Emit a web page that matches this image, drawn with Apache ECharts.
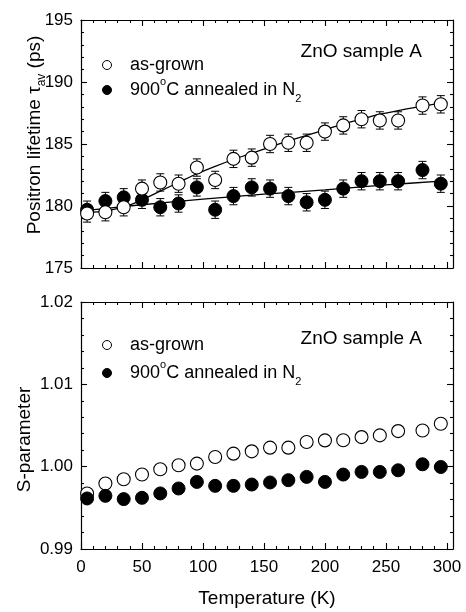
<!DOCTYPE html>
<html><head><meta charset="utf-8">
<script src="https://cdn.jsdelivr.net/npm/echarts@6/dist/echarts.min.js"></script>
<style>html,body{margin:0;padding:0;background:#fff}#c{width:466px;height:612px}</style>
</head><body><div id="c"></div>
<script>
// ---- data ----
const temps = [5,20,35,50,65,80,95,110,125,140,155,170,185,200,215,230,245,260,280,295];
const tauAsGrown  = [179.4,179.5,179.9,181.4,181.9,181.8,183.1,182.1,183.8,183.9,185.0,185.1,185.1,186.0,186.5,187.0,186.9,186.9,188.1,188.2];
const tauAnnealed = [179.7,180.4,180.7,180.5,179.9,180.2,181.5,179.7,180.8,181.5,181.4,180.8,180.3,180.5,181.4,182.0,182.0,182.0,182.9,181.8];
const tauErrAsGrown  = [0.7,0.7,0.7,0.7,0.7,0.7,0.7,0.7,0.7,0.7,0.7,0.7,0.7,0.7,0.7,0.7,0.7,0.7,0.7,0.7];
const tauErrAnnealed = [0.7,0.7,0.7,0.7,0.7,0.7,0.7,0.7,0.7,0.7,0.7,0.7,0.7,0.7,0.7,0.7,0.7,0.7,0.7,0.7];
const fitAsGrownT = [5,20,35,50,65,80,95,110,125,140,155,170,185,200,215,230,245,260,280,295];
const fitAsGrownV = [179.45,179.6,179.9,180.5,181.2,181.9,182.6,183.2,183.75,184.25,184.75,185.25,185.7,186.15,186.6,187.0,187.4,187.7,188.05,188.3];
const fitAnnealedT = [5,50,100,150,200,250,295];
const fitAnnealedV = [179.65,180.1,180.55,180.95,181.3,181.7,182.0];
const sAsGrown  = [0.99675,0.99795,0.99848,0.99904,0.99969,1.00017,1.00037,1.00117,1.00158,1.00186,1.00231,1.00231,1.00299,1.00319,1.0032,1.00359,1.0038,1.00432,1.0044,1.00521];
const sAnnealed = [0.99614,0.99646,0.99606,0.99622,0.99675,0.99735,0.99815,0.99767,0.99767,0.99783,0.99808,0.99836,0.99876,0.99815,0.99904,0.99936,0.99936,0.99956,1.00029,0.99996];
const xMajorTicks = [0,50,100,150,200,250,300];
const xMinorTicks = [10,20,30,40,60,70,80,90,110,120,130,140,160,170,180,190,210,220,230,240,260,270,280,290];
const nameAsGrown = 'as-grown';
const nameAnnealed = '900°C annealed in N2';
const sampleLabel = 'ZnO sample A';

// ---- chart ----
const FONT = 'Liberation Sans, Arial, sans-serif';
const X_MAX = 305;
const lineCol = '#000';

function xAxesFor(grid, showLabels) {
  const base = {type:'value', gridIndex:grid, min:0, max:X_MAX, splitLine:{show:false}, minorTick:{show:false}};
  const major = (pos, labels) => Object.assign({}, base, {
    position:pos,
    axisLine:{onZero:false, lineStyle:{color:lineCol, width:1.2}},
    axisTick:{inside:true, length:6, customValues:xMajorTicks, lineStyle:{color:lineCol, width:1.1}},
    axisLabel:{show:labels, customValues:xMajorTicks, margin:10, fontSize:17, color:'#000', fontFamily:FONT}
  });
  const minor = (pos) => Object.assign({}, base, {
    position:pos,
    axisLine:{show:false, onZero:false},
    axisTick:{inside:true, length:3, customValues:xMinorTicks, lineStyle:{color:lineCol, width:1.1}},
    axisLabel:{show:false}
  });
  const a = major('bottom', showLabels);
  if (showLabels) {
    a.name = 'Temperature (K)';
    a.nameLocation = 'middle';
    a.nameGap = 40;
    a.nameMoveOverlap = false;
    a.nameTextStyle = {fontSize:19, color:'#000', fontFamily:FONT};
  }
  return [a, minor('bottom'), major('top', false), minor('top')];
}

function yAxesFor(grid, min, max, interval, fmt, name, nameGap, lh, pad) {
  const common = {type:'value', gridIndex:grid, min:min, max:max, interval:interval, splitLine:{show:false},
    minorTick:{show:true, splitNumber:5, length:3, lineStyle:{color:lineCol, width:1.1}},
    axisTick:{inside:true, length:6, lineStyle:{color:lineCol, width:1.1}},
    axisLine:{onZero:false, lineStyle:{color:lineCol, width:1.2}}};
  return [
    Object.assign({}, common, {position:'left',
      axisLabel:{margin:8, fontSize:17, color:'#000', fontFamily:FONT, formatter:fmt},
      name:name, nameLocation:'middle', nameGap:nameGap, nameRotate:90, nameMoveOverlap:false,
      nameTextStyle:{fontSize:19, color:'#000', fontFamily:FONT, lineHeight:lh, padding:pad,
        rich:{sub:{fontSize:12, fontFamily:FONT, color:'#000', lineHeight:9, verticalAlign:'bottom'}}}}),
    Object.assign({}, common, {position:'right', axisLabel:{show:false}})
  ];
}

function errData(vals, errs) { return temps.map((t,i)=>[t, vals[i], errs[i]]); }
function errRender(params, api) {
  const x = api.value(0), y = api.value(1), e = api.value(2);
  const p1 = api.coord([x, y + e]), p2 = api.coord([x, y - e]);
  const w = 4;
  const st = {stroke:'#000', lineWidth:1};
  return {type:'group', children:[
    {type:'line', shape:{x1:p1[0], y1:p1[1], x2:p2[0], y2:p2[1]}, style:st},
    {type:'line', shape:{x1:p1[0]-w, y1:p1[1], x2:p1[0]+w, y2:p1[1]}, style:st},
    {type:'line', shape:{x1:p2[0]-w, y1:p2[1], x2:p2[0]+w, y2:p2[1]}, style:st}
  ]};
}

const openStyle = {color:'#fff', borderColor:'#000', borderWidth:1.1, opacity:1};
const fillStyle = {color:'#000', borderColor:'#000', borderWidth:1, opacity:1};

function legendFor(top, gap) {
  return {
    orient:'vertical', left:102, top:top, padding:0, itemGap:gap, itemWidth:36, itemHeight:9,
    selectedMode:false,
    data:[
      {name:nameAsGrown, icon:'circle', itemStyle:{color:'#fff', borderColor:'#000', borderWidth:1, opacity:1}},
      {name:nameAnnealed, icon:'circle', itemStyle:{color:'#000', borderColor:'#000', borderWidth:1, opacity:1}}
    ],
    formatter: n => n === nameAnnealed ? '900{sup|o}C annealed in N{sub|2}' : n,
    textStyle:{fontSize:18, color:'#000', fontFamily:FONT, lineHeight:28,
      rich:{
        sup:{fontSize:11, fontFamily:FONT, color:'#000', lineHeight:18, verticalAlign:'top'},
        sub:{fontSize:11, fontFamily:FONT, color:'#000', lineHeight:8, verticalAlign:'bottom'}
      }}
  };
}

const option = {
  animation:false,
  backgroundColor:'#fff',
  grid:[
    {left:81, right:13, top:20, height:248},
    {left:81, right:13, top:302, height:247}
  ],
  title:[
    {text:sampleLabel, right:44, top:42, padding:0, textStyle:{fontSize:19, fontWeight:'normal', color:'#000', fontFamily:FONT}},
    {text:sampleLabel, right:44, top:329, padding:0, textStyle:{fontSize:19, fontWeight:'normal', color:'#000', fontFamily:FONT}}
  ],
  legend:[legendFor(51, -3), legendFor(331, 0)],
  xAxis: xAxesFor(0, false).concat(xAxesFor(1, true)),
  yAxis: yAxesFor(0, 175, 195, 5, v => String(v), 'Positron lifetime τ{sub|av} (ps)', 33, 26, [0,0,0,18])
    .concat(yAxesFor(1, 0.99, 1.02, 0.01, v => v.toFixed(2), 'S-parameter', 45, 22, [0,28,0,0])),
  series:[
    {type:'line', xAxisIndex:0, yAxisIndex:0, data:fitAnnealedT.map((t,i)=>[t, fitAnnealedV[i]]), showSymbol:false, smooth:0.3,
      lineStyle:{color:'#000', width:1.3}, silent:true, z:2},
    {type:'line', xAxisIndex:0, yAxisIndex:0, data:fitAsGrownT.map((t,i)=>[t, fitAsGrownV[i]]), showSymbol:false, smooth:0.3,
      lineStyle:{color:'#000', width:1.3}, silent:true, z:2},
    {type:'custom', name:'errAnnealed', xAxisIndex:0, yAxisIndex:0, renderItem:errRender, data:errData(tauAnnealed, tauErrAnnealed), z:3},
    {type:'scatter', name:nameAnnealed, xAxisIndex:0, yAxisIndex:0, data:temps.map((t,i)=>[t, tauAnnealed[i]]), symbol:'circle', symbolSize:13, itemStyle:fillStyle, z:4},
    {type:'custom', name:'errAsGrown', xAxisIndex:0, yAxisIndex:0, renderItem:errRender, data:errData(tauAsGrown, tauErrAsGrown), z:5},
    {type:'scatter', name:nameAsGrown, xAxisIndex:0, yAxisIndex:0, data:temps.map((t,i)=>[t, tauAsGrown[i]]), symbol:'circle', symbolSize:13, itemStyle:openStyle, z:6},
    {type:'scatter', name:nameAsGrown, xAxisIndex:4, yAxisIndex:2, data:temps.map((t,i)=>[t, sAsGrown[i]]), symbol:'circle', symbolSize:13, itemStyle:openStyle, z:4},
    {type:'scatter', name:nameAnnealed, xAxisIndex:4, yAxisIndex:2, data:temps.map((t,i)=>[t, sAnnealed[i]]), symbol:'circle', symbolSize:13, itemStyle:fillStyle, z:5}
  ]
};
const chart = echarts.init(document.getElementById('c'), null, {renderer:'canvas'});
chart.setOption(option);
</script>
</body></html>
